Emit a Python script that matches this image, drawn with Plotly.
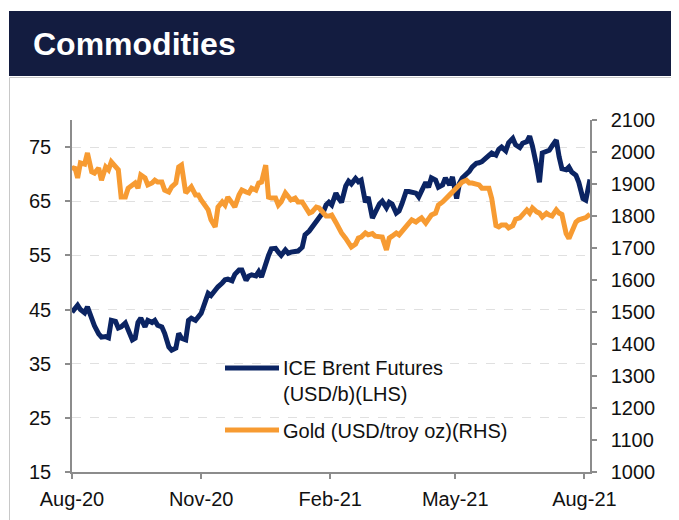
import plotly.graph_objects as go

dates = [
    "2020-08-01","2020-08-03","2020-08-05","2020-08-07","2020-08-10","2020-08-12","2020-08-15","2020-08-17","2020-08-20","2020-08-22",
    "2020-08-25","2020-08-27","2020-08-29","2020-09-01","2020-09-03","2020-09-05","2020-09-08","2020-09-10","2020-09-13","2020-09-15",
    "2020-09-17","2020-09-19","2020-09-22","2020-09-24","2020-09-27","2020-09-29","2020-10-01","2020-10-04","2020-10-06","2020-10-09",
    "2020-10-11","2020-10-14","2020-10-16","2020-10-18","2020-10-21","2020-10-23","2020-10-25","2020-10-28","2020-10-30","2020-11-01",
    "2020-11-04","2020-11-06","2020-11-08","2020-11-11","2020-11-13","2020-11-16","2020-11-18","2020-11-20","2020-11-23","2020-11-25",
    "2020-11-28","2020-11-30","2020-12-03","2020-12-05","2020-12-07","2020-12-10","2020-12-12","2020-12-14","2020-12-17","2020-12-19",
    "2020-12-21","2020-12-24","2020-12-26","2020-12-28","2020-12-31","2021-01-02","2021-01-04","2021-01-07","2021-01-09","2021-01-12",
    "2021-01-14","2021-01-17","2021-01-19","2021-01-22","2021-01-24","2021-01-27","2021-01-29","2021-01-31","2021-02-02","2021-02-05",
    "2021-02-07","2021-02-09","2021-02-12","2021-02-14","2021-02-16","2021-02-19","2021-02-21","2021-02-23","2021-02-26","2021-02-28",
    "2021-03-03","2021-03-05","2021-03-08","2021-03-10","2021-03-13","2021-03-15","2021-03-17","2021-03-20","2021-03-22","2021-03-24",
    "2021-03-27","2021-03-29","2021-03-31","2021-04-03","2021-04-05","2021-04-07","2021-04-10","2021-04-12","2021-04-14","2021-04-17",
    "2021-04-19","2021-04-22","2021-04-24","2021-04-27","2021-04-29","2021-05-02","2021-05-04","2021-05-06","2021-05-09","2021-05-11",
    "2021-05-13","2021-05-16","2021-05-18","2021-05-20","2021-05-23","2021-05-25","2021-05-27","2021-05-30","2021-06-01","2021-06-03",
    "2021-06-06","2021-06-08","2021-06-11","2021-06-13","2021-06-16","2021-06-18","2021-06-21","2021-06-23","2021-06-25","2021-06-28",
    "2021-06-30","2021-07-02","2021-07-05","2021-07-07","2021-07-09","2021-07-12","2021-07-14","2021-07-16","2021-07-19","2021-07-21",
    "2021-07-23","2021-07-26","2021-07-28","2021-07-31","2021-08-02","2021-08-05",
]

brent = [
    44.5,45.2,45.8,45.0,44.4,45.5,43.2,42.0,40.5,39.9,
    40.0,39.8,43.0,42.8,41.6,41.8,42.5,41.2,39.4,39.7,
    42.6,43.4,41.8,43.0,42.6,43.0,42.1,41.8,40.6,38.1,
    37.5,37.9,40.6,39.7,39.4,43.0,43.4,43.0,43.6,44.3,
    46.5,48.0,47.6,48.8,49.2,49.9,50.5,50.6,50.3,51.5,
    52.3,52.3,50.4,51.2,51.4,51.2,52.0,51.0,53.6,55.0,
    56.2,56.3,55.6,55.0,56.0,55.4,55.6,55.6,55.8,56.5,
    58.8,59.5,60.2,61.3,62.1,63.0,64.3,64.8,64.3,66.5,
    65.5,64.8,67.8,68.7,68.2,69.2,68.6,68.9,64.8,65.8,
    61.9,63.0,64.5,65.0,63.8,64.8,64.5,62.8,63.2,64.5,
    66.8,66.8,66.7,66.5,65.8,67.0,68.5,67.6,69.3,68.9,
    67.6,68.0,69.3,68.0,69.5,65.5,68.3,69.3,69.9,70.5,
    71.3,72.0,72.1,72.3,73.0,73.6,73.9,73.5,74.6,75.0,
    74.3,75.8,76.6,75.4,74.9,75.7,76.0,77.0,75.2,71.5,
    68.5,73.9,74.2,74.4,75.2,76.3,73.2,71.0,70.8,71.3,
    70.4,69.8,68.5,65.5,65.2,69.0,
]

gold = [
    1944,1953,1919,1966,1962,1997,1938,1934,1950,1912,
    1953,1944,1969,1950,1944,1859,1859,1887,1897,1903,
    1887,1928,1919,1897,1903,1912,1906,1906,1881,1875,
    1891,1903,1953,1959,1872,1881,1891,1866,1866,1850,
    1830,1819,1788,1766,1828,1844,1834,1859,1841,1828,
    1866,1881,1875,1872,1887,1881,1903,1906,1959,1859,
    1856,1856,1834,1844,1872,1859,1850,1856,1844,1844,
    1828,1809,1813,1828,1825,1813,1800,1800,1803,1780,
    1760,1747,1730,1715,1703,1712,1731,1734,1747,1741,
    1745,1737,1734,1734,1694,1731,1737,1747,1741,1750,
    1768,1778,1788,1781,1788,1794,1778,1788,1803,1809,
    1834,1844,1855,1866,1875,1887,1897,1906,1912,1903,
    1903,1900,1897,1887,1887,1887,1855,1770,1766,1772,
    1772,1763,1770,1790,1794,1803,1819,1809,1825,1813,
    1809,1797,1809,1803,1800,1819,1809,1805,1745,1730,
    1755,1781,1788,1793,1795,1806,
]

x_tick_vals = ["2020-08-01", "2020-11-01", "2021-02-01", "2021-05-01", "2021-08-01"]
x_tick_text = ["Aug-20", "Nov-20", "Feb-21", "May-21", "Aug-21"]
left_ticks = [15, 25, 35, 45, 55, 65, 75]
right_ticks = [1000, 1100, 1200, 1300, 1400, 1500, 1600, 1700, 1800, 1900, 2000, 2100]

brent_name = "ICE Brent Futures<br>(USD/b)(LHS)"
gold_name = "Gold (USD/troy oz)(RHS)"
title_text = "Commodities"

NAVY = "#0b2463"
ORANGE = "#f79b32"
AXIS = "#8c8c8c"
FONT = "Arial, Liberation Sans, sans-serif"
TICK_SIZE = 20
LEG_SIZE = 20

# The page body adds an 8px margin; all positions below are page pixels.
OFF = 8
W, H = 679, 520
L, R, T, B = 72, 590, 120, 472   # plot area in page pixels


def px_x(p):
    return (p - L) / (R - L)


def px_y(p):
    return (B - p) / (B - T)


fig = go.Figure()
fig.add_trace(go.Scatter(x=dates, y=gold, name=gold_name, yaxis="y2", mode="lines",
                         line=dict(color=ORANGE, width=5), showlegend=False))
fig.add_trace(go.Scatter(x=dates, y=brent, name=brent_name, yaxis="y", mode="lines",
                         line=dict(color=NAVY, width=5), showlegend=False))

shapes = [
    # title bar
    dict(type="rect", xref="paper", yref="paper", x0=px_x(9), x1=px_x(700), y0=px_y(76), y1=px_y(11),
         fillcolor="#131c40", line=dict(width=0), layer="below"),
    # panel border
    dict(type="rect", xref="paper", yref="paper", x0=px_x(9.5), x1=px_x(672.5), y0=px_y(560), y1=px_y(77.5),
         fillcolor="rgba(0,0,0,0)", line=dict(color="#c8c8c8", width=1), layer="below"),
    # legend lines
    dict(type="line", xref="paper", yref="paper", x0=px_x(225), x1=px_x(279), y0=px_y(368), y1=px_y(368),
         line=dict(color=NAVY, width=5)),
    dict(type="line", xref="paper", yref="paper", x0=px_x(225), x1=px_x(279), y0=px_y(430), y1=px_y(430),
         line=dict(color=ORANGE, width=5)),
]

annotations = [
    dict(text="<b>" + title_text + "</b>", xref="paper", yref="paper", x=px_x(31), y=px_y(44),
         xanchor="left", yanchor="middle", showarrow=False,
         font=dict(family=FONT, size=32, color="white")),
    dict(text=brent_name, xref="paper", yref="paper", x=px_x(281), y=px_y(381),
         xanchor="left", yanchor="middle", align="left", showarrow=False,
         font=dict(family=FONT, size=LEG_SIZE, color="#111111")),
    dict(text=gold_name, xref="paper", yref="paper", x=px_x(281), y=px_y(431),
         xanchor="left", yanchor="middle", align="left", showarrow=False,
         font=dict(family=FONT, size=LEG_SIZE, color="#111111")),
]

fig.update_layout(
    width=W, height=H,
    margin=dict(l=L - OFF, r=W - (R - OFF), t=T - OFF, b=H - (B - OFF), pad=0),
    paper_bgcolor="white", plot_bgcolor="white",
    font=dict(family=FONT, size=TICK_SIZE, color="#111111"),
    showlegend=False,
    shapes=shapes,
    annotations=annotations,
    xaxis=dict(type="date", range=["2020-08-01", "2021-08-05"],
               tickvals=x_tick_vals, ticktext=x_tick_text,
               ticks="outside", ticklen=5, tickcolor=AXIS, tickwidth=1.5,
               showline=True, linecolor=AXIS, linewidth=1.5, showgrid=False, zeroline=False,
               tickfont=dict(family=FONT, size=TICK_SIZE, color="#111111"), ticklabelstandoff=3),
    yaxis=dict(range=[15, 80], tickvals=left_ticks,
               ticks="outside", ticklen=5, tickcolor=AXIS, tickwidth=1.5,
               showline=True, linecolor=AXIS, linewidth=1.5,
               showgrid=True, gridcolor="#e0e0e0", gridwidth=1, griddash="dash", zeroline=False,
               tickfont=dict(family=FONT, size=TICK_SIZE, color="#111111"), ticklabelstandoff=10),
    yaxis2=dict(range=[1000, 2100], tickvals=right_ticks, overlaying="y", side="right",
                ticks="outside", ticklen=5, tickcolor=AXIS, tickwidth=1.5,
                showline=True, linecolor=AXIS, linewidth=1.5, showgrid=False, zeroline=False,
                tickfont=dict(family=FONT, size=TICK_SIZE, color="#111111"), ticklabelstandoff=10),
)

fig.write_html("out.html")
